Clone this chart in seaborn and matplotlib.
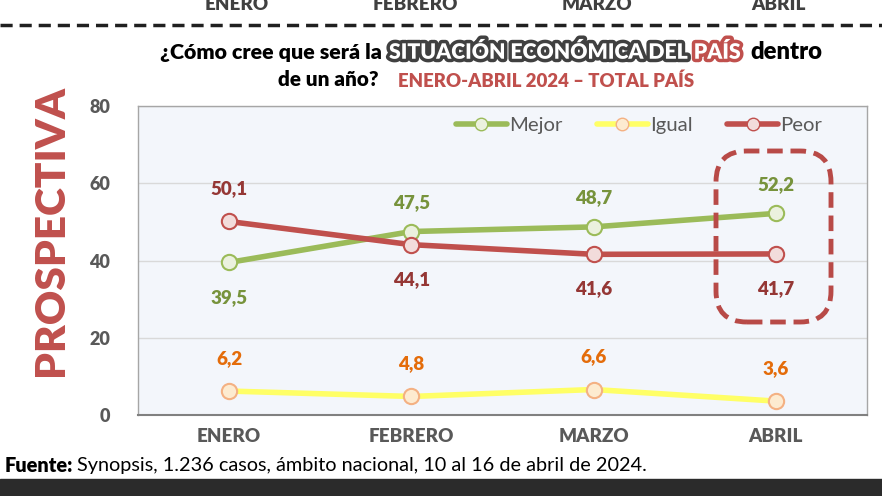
import matplotlib
matplotlib.use("Agg")
import matplotlib.pyplot as plt
import matplotlib.patheffects as pe
from matplotlib.patches import FancyBboxPatch, Rectangle
from matplotlib.lines import Line2D
import seaborn as sns
import pandas as pd

# ---- data ----
months = ["ENERO", "FEBRERO", "MARZO", "ABRIL"]
mejor = [39.5, 47.5, 48.7, 52.2]
igual = [6.2, 4.8, 6.6, 3.6]
peor = [50.1, 44.1, 41.6, 41.7]
mejor_lbl = ["39,5", "47,5", "48,7", "52,2"]
igual_lbl = ["6,2", "4,8", "6,6", "3,6"]
peor_lbl = ["50,1", "44,1", "41,6", "41,7"]
yticks = [0, 20, 40, 60, 80]

sns.set_theme(style="white")
FONT = "Lato"
plt.rcParams["font.family"] = [FONT, "DejaVu Sans"]

W, H = 882, 496
fig = plt.figure(figsize=(W / 100, H / 100), dpi=100)
fig.patch.set_facecolor("white")

def fx(px):
    return px / W

def fy(py):
    return 1 - py / H

ax = fig.add_axes([fx(138), fy(415), fx(867) - fx(138), fy(106) - fy(415)])
ax.set_facecolor("#F3F6FB")

GREEN, GREEN_F = "#9BBB59", "#EBF1DE"
YEL, YEL_F, YEL_E = "#FFFF66", "#FDEBD0", "#F4B183"
RED, RED_F = "#C0504D", "#F2DCDB"

df = pd.DataFrame({"mes": months, "Mejor": mejor, "Igual": igual, "Peor": peor})
xs = list(range(len(months)))
df["x"] = xs

sns.lineplot(data=df, x="x", y="Igual", ax=ax, color=YEL, lw=4, marker="o", ms=11,
             markerfacecolor=YEL_F, markeredgecolor=YEL_E, markeredgewidth=1.5, zorder=3)
sns.lineplot(data=df, x="x", y="Mejor", ax=ax, color=GREEN, lw=4, marker="o", ms=11,
             markerfacecolor=GREEN_F, markeredgecolor=GREEN, markeredgewidth=1.5, zorder=4)
sns.lineplot(data=df, x="x", y="Peor", ax=ax, color=RED, lw=4, marker="o", ms=11,
             markerfacecolor=RED_F, markeredgecolor=RED, markeredgewidth=1.5, zorder=5)

ax.set_xlim(-0.5, 3.5)
ax.set_ylim(0, 80)
ax.set_yticks(yticks)
ax.set_yticklabels([str(v) for v in yticks], fontsize=13, fontweight="heavy", color="#595959")
ax.set_xticks(xs)
ax.set_xticklabels(months, fontsize=13.5, fontweight="heavy", color="#595959")
ax.tick_params(axis="y", length=0, pad=20)
ax.tick_params(axis="x", length=0, pad=9)
ax.set_xlabel("")
ax.set_ylabel("")
ax.grid(axis="y", color="#D9D9D9", lw=1)
ax.set_axisbelow(True)
for s in ["left", "top", "right"]:
    ax.spines[s].set_color("#A6A6A6")
    ax.spines[s].set_linewidth(1)
ax.spines["bottom"].set_color("#808080")
ax.spines["bottom"].set_linewidth(1.5)

# data labels
lbl_kw = dict(ha="center", va="center", fontsize=13.5, fontweight="heavy")
mejor_off = [-9, 7.5, 7.5, 7.5]
peor_off = [8.5, -9, -9, -9]
for i in xs:
    ax.text(i, mejor[i] + mejor_off[i], mejor_lbl[i], color="#77933C", **lbl_kw)
    ax.text(i, peor[i] + peor_off[i], peor_lbl[i], color="#953735", **lbl_kw)
    ax.text(i, igual[i] + 8.5, igual_lbl[i], color="#E46C0A", **lbl_kw)

# legend
handles = [
    Line2D([], [], color=GREEN, lw=4, marker="o", ms=9, markerfacecolor=GREEN_F, markeredgecolor=GREEN),
    Line2D([], [], color=YEL, lw=4, marker="o", ms=9, markerfacecolor=YEL_F, markeredgecolor=YEL_E),
    Line2D([], [], color=RED, lw=4, marker="o", ms=9, markerfacecolor=RED_F, markeredgecolor=RED),
]
leg = ax.legend(handles, ["Mejor", "Igual", "Peor"], loc="upper left", ncol=3, frameon=False,
                fontsize=14.6, handlelength=2.5, handletextpad=0.12, columnspacing=1.7,
                bbox_to_anchor=((456 - 138) / 729, (415 - 117) / 309), borderaxespad=0,
                borderpad=0)
for t in leg.get_texts():
    t.set_color("#595959")

# dashed rounded box around ABRIL
box = FancyBboxPatch((fx(716), fy(322)), fx(831) - fx(716), fy(151) - fy(322),
                     boxstyle="round,pad=0,rounding_size=0.035", transform=fig.transFigure,
                     fill=False, edgecolor="#B84A47", lw=3.5, linestyle=(0, (3.2, 1.6)),
                     zorder=10, mutation_aspect=882 / 496)
fig.add_artist(box)

# top partial labels (cut off at the top edge, as in the reference) and dashed separator
for x, m in zip([237, 415, 597, 778], months):
    fig.text(fx(x), fy(4), m, ha="center", va="center", fontsize=13.5, fontweight="heavy",
             color="#404040")
fig.add_artist(Line2D([0, 1], [fy(25), fy(25)], transform=fig.transFigure, color="#202020",
                      lw=2.5, linestyle=(0, (3.5, 2))))

fig.canvas.draw()
renderer = fig.canvas.get_renderer()

def fit(s, target, base=14, **kw):
    t = fig.text(0, 0, s, fontsize=base, **kw)
    w = t.get_window_extent(renderer).width
    t.remove()
    return base * target / w

def piece(x_px, y_px, s, **kw):
    t = fig.text(fx(x_px), fy(y_px), s, ha="left", va="center", **kw)
    bb = t.get_window_extent(renderer)
    return x_px + bb.width

# PROSPECTIVA (vertical, fitted to reference height)
ps = fit("PROSPECTIVA", 292, fontweight="heavy")
fig.text(fx(51), fy(231), "PROSPECTIVA", rotation=90, ha="center", va="center",
         fontsize=ps, fontweight="heavy", color="#C0504D")

# title composed of pieces
s1 = fit("¿Cómo cree que será la", 222, fontweight="heavy")
piece(160, 52, "¿Cómo cree que será la", fontsize=s1, fontweight="heavy", color="black")
sh = fit("SITUACIÓN ECONÓMICA DEL", 300, fontweight="heavy")
x = piece(389, 52, "SITUACIÓN ECONÓMICA DEL", fontsize=sh, fontweight="heavy", color="white",
          path_effects=[pe.withStroke(linewidth=5, foreground="#404040")])
x = piece(x + 6, 52, "PAÍS", fontsize=sh, fontweight="heavy", color="white",
          path_effects=[pe.withStroke(linewidth=5, foreground="#C0504D")])
sd = fit("dentro", 72, fontweight="heavy")
piece(750, 52, "dentro", fontsize=min(sd, s1 * 1.15), fontweight="heavy", color="black")

s2 = fit("de un año?", 100, fontweight="heavy")
piece(278, 80, "de un año?", fontsize=s2, fontweight="heavy", color="black")
sr = fit("ENERO-ABRIL 2024 – TOTAL PAÍS", 298, fontweight="heavy")
piece(398, 81, "ENERO-ABRIL 2024 – TOTAL PAÍS", fontsize=sr, fontweight="heavy",
      color="#C0504D")

# fuente
x = piece(5, 466, "Fuente:", fontsize=14.3, fontweight="heavy", color="black")
x = piece(x + 4, 466, "Synopsis, 1.236 casos, ámbito nacional, 10 al 16 de abril de 2024.",
          fontsize=14.3, color="black")

# bottom dark band
fig.add_artist(Rectangle((0, 0), 1, fy(479), transform=fig.transFigure, color="#2B2B2B", zorder=0))

fig.savefig("out.png", dpi=100)
